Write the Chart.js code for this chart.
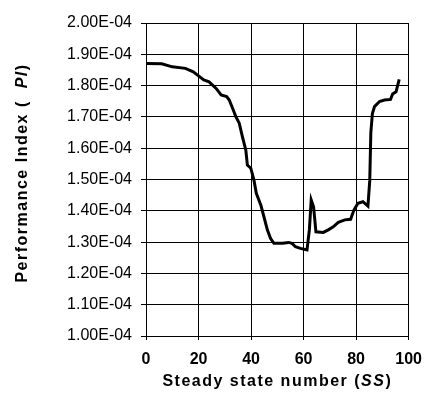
<!DOCTYPE html>
<html>
<head>
<meta charset="utf-8">
<script src="https://cdn.jsdelivr.net/npm/chart.js@4.4.1/dist/chart.umd.min.js"></script>
<style>
  body { margin: 0; background: #fff; }
  canvas { display: block; }
</style>
</head>
<body>
<canvas id="pi-chart" width="432" height="399"></canvas>
<script>
// steady state number (x) and performance index (y)
const ssValues = [0, 6, 10, 15, 18, 20, 22, 24, 26.7, 28.6, 30.7, 31.7, 33, 34.2, 35.5, 36.7,
    38, 38.6, 39.9, 41.1, 42, 43.7, 44.9, 46.2, 47.4, 48.7, 50.6, 52, 54.3, 55.6, 56.9,
    58.8, 61.3, 62.2, 62.9, 63.8, 64.7, 67.5, 69.4, 71.3, 73.2, 75.7, 77.9, 79.2, 80.7,
    82.6, 84.5, 85.2, 85.6, 86.2, 87, 88.9, 90.8, 93.1, 93.9, 95.2, 96.4];
const piValues = [1.871e-4, 1.870e-4, 1.860e-4, 1.855e-4, 1.844e-4, 1.831e-4, 1.818e-4, 1.812e-4,
    1.791e-4, 1.770e-4, 1.765e-4, 1.754e-4, 1.727e-4, 1.701e-4, 1.680e-4, 1.637e-4,
    1.594e-4, 1.546e-4, 1.536e-4, 1.498e-4, 1.456e-4, 1.419e-4, 1.381e-4, 1.339e-4,
    1.312e-4, 1.296e-4, 1.296e-4, 1.296e-4, 1.299e-4, 1.296e-4, 1.285e-4, 1.280e-4,
    1.275e-4, 1.339e-4, 1.435e-4, 1.413e-4, 1.333e-4, 1.331e-4, 1.339e-4, 1.349e-4,
    1.363e-4, 1.371e-4, 1.373e-4, 1.403e-4, 1.424e-4, 1.429e-4, 1.415e-4, 1.498e-4,
    1.650e-4, 1.711e-4, 1.733e-4, 1.749e-4, 1.754e-4, 1.756e-4, 1.773e-4, 1.780e-4, 1.820e-4];
const yTickLabels = ['1.00E-04', '1.10E-04', '1.20E-04', '1.30E-04', '1.40E-04', '1.50E-04',
    '1.60E-04', '1.70E-04', '1.80E-04', '1.90E-04', '2.00E-04'];
const xTitleParts = [['Steady state number (', false], ['SS', true], [')', false]];
const yTitleParts = [['Performance Index (  ', false], ['PI', true], [')', false]];

const FONT = '"Liberation Sans", Arial, sans-serif';

// draws a title made of plain and italic pieces, centred on 0
function drawParts(ctx, parts) {
    const fontOf = it => (it ? 'italic ' : '') + 'bold 16px ' + FONT;
    let total = 0;
    parts.forEach(p => { ctx.font = fontOf(p[1]); total += ctx.measureText(p[0]).width; });
    let x = -total / 2;
    parts.forEach(p => {
        ctx.font = fontOf(p[1]);
        ctx.fillText(p[0], x, 0);
        x += ctx.measureText(p[0]).width;
    });
}

const axisTitles = {
    id: 'axisTitles',
    afterDraw(chart) {
        const ctx = chart.ctx;
        const area = chart.chartArea;
        ctx.save();
        ctx.fillStyle = '#000';
        ctx.textBaseline = 'alphabetic';
        ctx.textAlign = 'left';
        ctx.letterSpacing = '1.5px';
        ctx.save();
        ctx.translate((area.left + area.right) / 2, 386);
        drawParts(ctx, xTitleParts);
        ctx.restore();
        ctx.save();
        ctx.translate(27, 173);
        ctx.rotate(-Math.PI / 2);
        drawParts(ctx, yTitleParts);
        ctx.restore();
        ctx.restore();
    }
};

new Chart(document.getElementById('pi-chart'), {
    type: 'line',
    data: {
        datasets: [{
            data: ssValues.map((x, i) => ({ x: x, y: piValues[i] })),
            borderColor: '#000',
            borderWidth: 3,
            pointRadius: 0,
            tension: 0,
            fill: false
        }]
    },
    options: {
        responsive: false,
        animation: false,
        layout: { padding: { left: 40, right: 20, top: 23, bottom: 0 } },
        plugins: {
            legend: { display: false },
            tooltip: { enabled: false }
        },
        scales: {
            x: {
                type: 'linear',
                min: 0,
                max: 100,
                ticks: {
                    stepSize: 20,
                    color: '#000',
                    padding: 10,
                    font: { family: FONT, size: 16, weight: 'bold' }
                },
                grid: { color: '#000', lineWidth: 1, tickLength: 4 },
                border: { color: '#000', width: 1 },
                afterFit: scale => { scale.height = 63; }
            },
            y: {
                min: 1.0e-4,
                max: 2.0e-4,
                ticks: {
                    stepSize: 1.0e-5,
                    color: '#000',
                    padding: 9,
                    font: { family: FONT, size: 16 },
                    callback: (value, index) => yTickLabels[index]
                },
                grid: { color: '#000', lineWidth: 1, tickLength: 5 },
                border: { color: '#000', width: 1 },
                afterFit: scale => { scale.width = 106; }
            }
        }
    },
    plugins: [axisTitles]
});
</script>
</body>
</html>
